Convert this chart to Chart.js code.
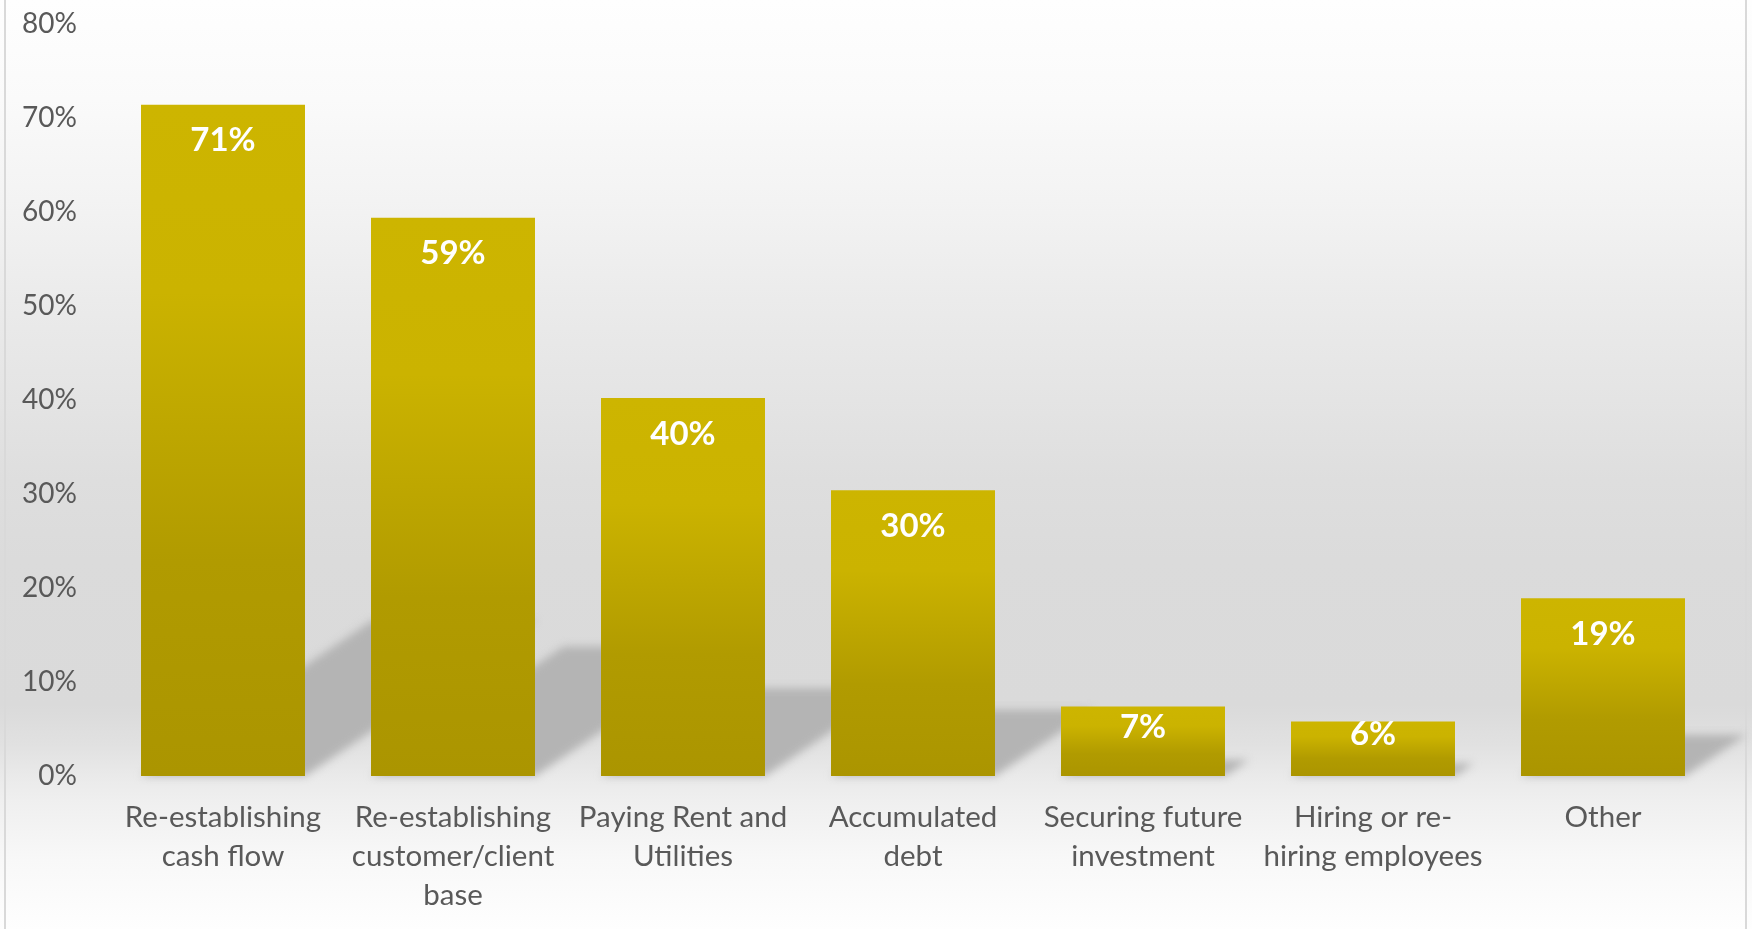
<!DOCTYPE html>
<html><head><meta charset="utf-8">
<script src="https://cdn.jsdelivr.net/npm/chart.js@4.4.1/dist/chart.umd.min.js"></script>
<style>html,body{margin:0;padding:0;background:#fff;overflow:hidden;} #wrap{width:1752px;height:929px;position:relative;}</style>
</head><body><div id="wrap"><canvas id="c" width="1752" height="929"></canvas></div>
<script>
const categories = [
  ["Re-establishing", "cash flow"],
  ["Re-establishing", "customer/client", "base"],
  ["Paying Rent and", "Utilities"],
  ["Accumulated", "debt"],
  ["Securing future", "investment"],
  ["Hiring or re-", "hiring employees"],
  ["Other"]
];
const values = [0.714, 0.594, 0.402, 0.304, 0.074, 0.058, 0.189];
const yTickMin = 0;
const yTickMax = 0.8;
const yTickStep = 0.1;

const pct = v => Math.round(v * 100) + '%';

Chart.defaults.font.family = 'Lato, "Open Sans", sans-serif';
Chart.defaults.color = '#595959';

function barGradient(context) {
  const chart = context.chart;
  const area = chart.chartArea;
  if (!area || !chart.scales.y) return '#c2ab00';
  const v = values[context.dataIndex];
  const yScale = chart.scales.y;
  const top = yScale.getPixelForValue(v);
  const bottom = yScale.getPixelForValue(0);
  const g = chart.ctx.createLinearGradient(0, top, 0, bottom);
  g.addColorStop(0, '#cdb500');
  g.addColorStop(0.28, '#cbb300');
  g.addColorStop(0.68, '#b19b00');
  g.addColorStop(1, '#ab9500');
  return g;
}

const bgPlugin = {
  id: 'bg',
  beforeDraw(chart) {
    const ctx = chart.ctx;
    const H = chart.height, W = chart.width;
    ctx.save();
    const g = ctx.createLinearGradient(0, 0, 0, H);
    g.addColorStop(0, '#fefefe');
    g.addColorStop(100/929, '#fafafa');
    g.addColorStop(200/929, '#f3f3f3');
    g.addColorStop(300/929, '#ebebeb');
    g.addColorStop(400/929, '#e4e4e4');
    g.addColorStop(480/929, '#dedede');
    g.addColorStop(560/929, '#dbdbdb');
    g.addColorStop(705/929, '#dadada');
    g.addColorStop(745/929, '#e1e1e1');
    g.addColorStop(777/929, '#eaeaea');
    g.addColorStop(800/929, '#efefef');
    g.addColorStop(860/929, '#f8f8f8');
    g.addColorStop(1, '#fefefe');
    ctx.fillStyle = g;
    ctx.fillRect(0, 0, W, H);
    ctx.fillStyle = '#d9d9d9';
    ctx.fillRect(4, 0, 2, H);
    ctx.fillRect(1745, 0, 2, H);
    ctx.restore();
  }
};

const shadowPlugin = {
  id: 'barShadow',
  beforeDatasetsDraw(chart) {
    const ctx = chart.ctx;
    const meta = chart.getDatasetMeta(0);
    ctx.save();
    ctx.filter = 'blur(4px)';
    ctx.fillStyle = 'rgb(180,180,180)';
    meta.data.forEach(bar => {
      const L = bar.x - bar.width / 2, R = bar.x + bar.width / 2;
      const h = bar.base - bar.y;
      const dx = 0.345 * h, dy = 0.232 * h;
      ctx.beginPath();
      ctx.moveTo(L, bar.base);
      ctx.lineTo(R, bar.base);
      ctx.lineTo(R + dx, bar.base - dy);
      ctx.lineTo(L + dx, bar.base - dy);
      ctx.closePath();
      ctx.fill();
    });
    ctx.restore();
  }
};

const labelPlugin = {
  id: 'barLabels',
  afterDatasetsDraw(chart) {
    const ctx = chart.ctx;
    const meta = chart.getDatasetMeta(0);
    ctx.save();
    ctx.font = 'bold 33px Lato, "Open Sans", sans-serif';
    ctx.fillStyle = '#ffffff';
    ctx.textAlign = 'center';
    ctx.textBaseline = 'middle';
    meta.data.forEach((bar, i) => {
      const h = bar.base - bar.y;
      const off = Math.min(36, h / 2 - 14);
      ctx.fillText(pct(values[i]), bar.x, bar.y + off);
    });
    ctx.restore();
  }
};

new Chart(document.getElementById('c'), {
  type: 'bar',
  data: {
    labels: categories,
    datasets: [{
      data: values,
      backgroundColor: barGradient,
      borderWidth: 0,
      categoryPercentage: 1,
      barPercentage: 0.713
    }]
  },
  options: {
    responsive: false,
    animation: false,
    devicePixelRatio: 1,
    layout: { padding: { left: 0, right: 34, top: 24, bottom: 0 } },
    plugins: { legend: { display: false }, tooltip: { enabled: false } },
    scales: {
      x: {
        grid: { display: false },
        border: { display: false },
        ticks: {
          padding: 14,
          maxRotation: 0,
          autoSkip: false,
          color: '#595959',
          font: { size: 29.5, lineHeight: 39/29.5 }
        },
        afterFit(scale) { scale.height = 153; }
      },
      y: {
        min: yTickMin,
        max: yTickMax,
        grid: { display: false, drawTicks: false },
        border: { display: false },
        ticks: {
          stepSize: yTickStep,
          padding: 31,
          color: '#595959',
          font: { size: 28 },
          callback: v => pct(v)
        },
        afterFit(scale) {
          scale.width = 108;
          scale.paddingTop = 0;
          scale.paddingBottom = 0;
        }
      }
    }
  },
  plugins: [bgPlugin, shadowPlugin, labelPlugin]
});
</script>
</body></html>
